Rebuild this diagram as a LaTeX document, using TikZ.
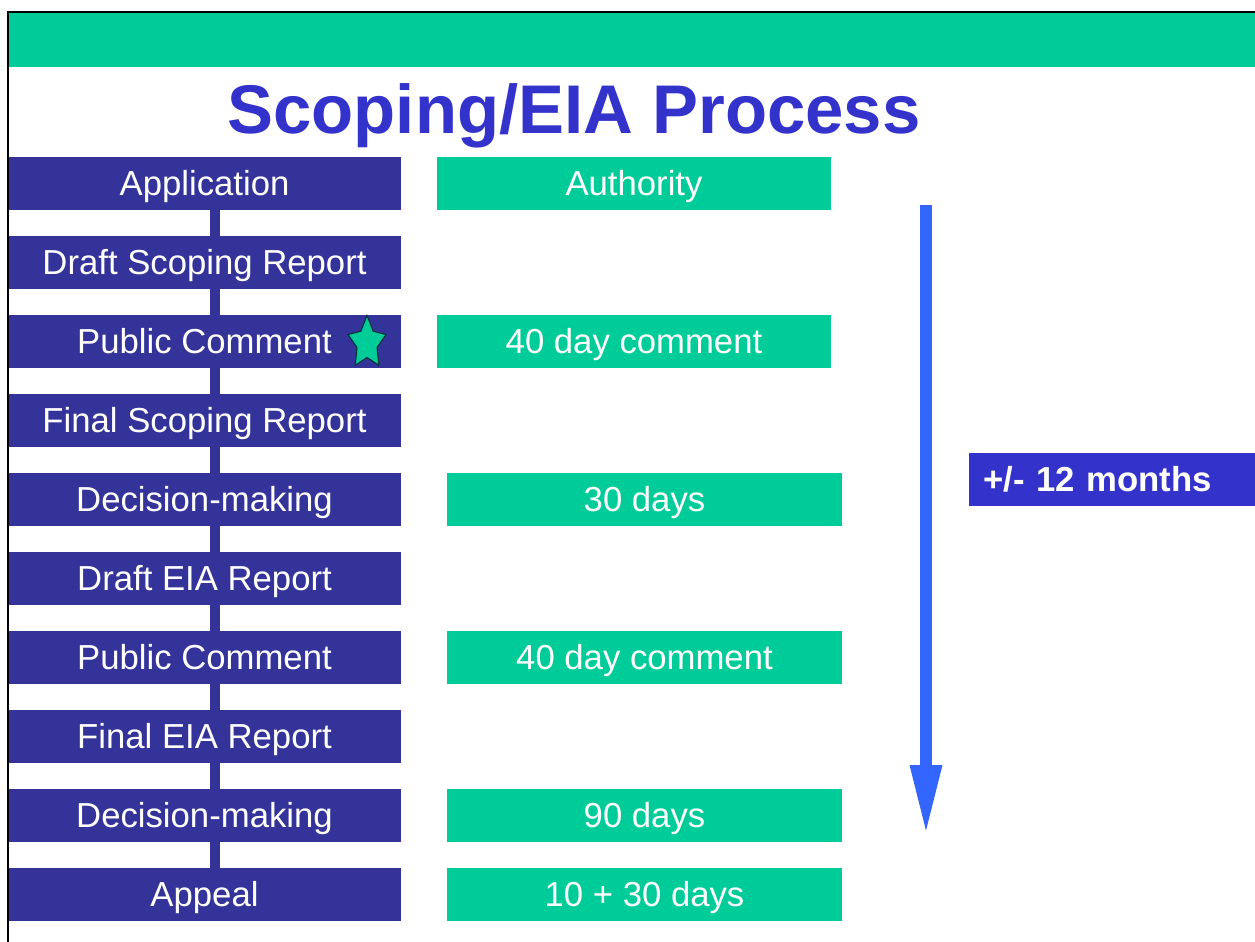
\documentclass[tikz,border=0pt]{standalone}
\usepackage{fontspec}
\setmainfont{Liberation Sans}
\usetikzlibrary{arrows.meta,positioning,shapes.geometric}

\definecolor{stageblue}{RGB}{51,51,153}
\definecolor{titleblue}{RGB}{51,51,204}
\definecolor{eiagreen}{RGB}{0,204,153}
\definecolor{spanblue}{RGB}{51,102,255}
\definecolor{stardark}{RGB}{0,51,51}
\newcommand{\boxfont}{\fontsize{19.75}{23}\selectfont}

\begin{document}
\begin{tikzpicture}[every node/.style={rectangle, align=center, inner sep=0pt, text height=14.1pt, text depth=0pt, font=\boxfont},
	stage/.style={fill=stageblue, text=white, minimum width=7.86cm, minimum height=1.06cm},
	period/.style={fill=eiagreen, text=white, minimum width=7.9cm, minimum height=1.06cm},
	link/.style={draw=stageblue, line width=0.2cm},
	span/.style={draw=spanblue, line width=0.24cm, -{Triangle[length=1.42cm, width=0.58cm]}}]
	\useasboundingbox (0,0) rectangle (25.1,-18.84);
	
	% Header band and title
	\fill[eiagreen] (0.16,-0.26) rectangle (25.1,-1.34);
	\node[font=\fontsize{39.2}{44}\selectfont\bfseries, text=titleblue, anchor=base] (title) at (11.48,-2.66) {Scoping/EIA Process};
	
	% Process steps
	\node[stage] (app) at (4.09,-3.67) {Application};
	\node[stage] (dsr) at (4.09,-5.25) {Draft Scoping Report};
	\node[stage] (pc1) at (4.09,-6.83) {Public Comment};
	\node[stage] (fsr) at (4.09,-8.41) {Final Scoping Report};
	\node[stage] (dm1) at (4.09,-9.99) {Decision-making};
	\node[stage] (deia) at (4.09,-11.57) {Draft EIA Report};
	\node[stage] (pc2) at (4.09,-13.15) {Public Comment};
	\node[stage] (feia) at (4.09,-14.73) {Final EIA Report};
	\node[stage] (dm2) at (4.09,-16.31) {Decision-making};
	\node[stage] (appeal) at (4.09,-17.89) {Appeal};
	\node[star, star points=5, star point ratio=1.9, minimum size=0.8cm, text height=0pt, fill=eiagreen, draw=stardark, line width=0.6pt, yscale=1.375, transform shape] (pcstar) at (7.34,-6.86) {};
	
	% Steps chain
	\foreach \a/\b in {app/dsr, dsr/pc1, pc1/fsr, fsr/dm1, dm1/deia, deia/pc2, pc2/feia, feia/dm2, dm2/appeal}
		\draw[link] ([xshift=0.2cm]\a.south) -- ([xshift=0.2cm]\b.north);
	
	% Time periods
	\node[period, minimum width=7.88cm] (auth) at (12.68,-3.67) {Authority};
	\node[period, minimum width=7.88cm] (comm1) at (12.68,-6.83) {40 day comment};
	\node[period] (days30) at (12.89,-9.99) {30 days};
	\node[period] (comm2) at (12.89,-13.15) {40 day comment};
	\node[period] (days90) at (12.89,-16.31) {90 days};
	\node[period] (appdays) at (12.89,-17.89) {10 + 30 days};
	
	% Overall duration
	\coordinate (spantop) at (18.52,-4.1);
	\coordinate (spanend) at (18.52,-16.72);
	\draw[span] (spantop) -- (spanend);
	\node[anchor=west, fill=titleblue, text=white, font=\boxfont\bfseries, minimum height=1.06cm, text width=5.16cm, inner xsep=0.28cm, align=left] (months) at (19.38,-9.59) {+/- 12 months};
	
	% Frame
	\draw[line width=0.04cm] (0.16,-18.84) -- (0.16,-0.24) -- (25.1,-0.24);
	
\end{tikzpicture}
\end{document}
